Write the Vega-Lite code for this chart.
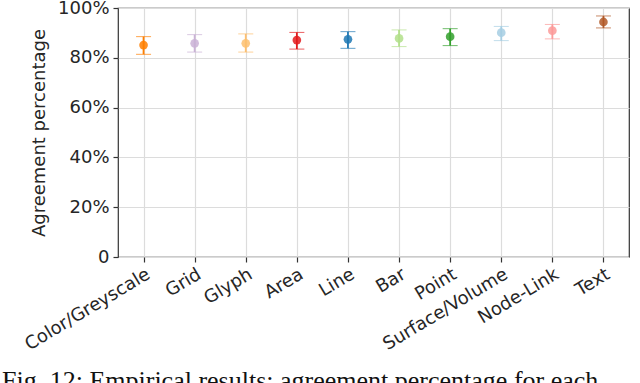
{
  "$schema": "https://vega.github.io/schema/vega-lite/v6.json",
  "width": 511,
  "height": 249,
  "autosize": {"type": "none"},
  "padding": {"left": 118, "top": 8, "right": 11, "bottom": 126},
  "background": "white",
  "config": {
    "font": "DejaVu Sans",
    "view": {"stroke": "#333333", "strokeWidth": 1.2},
    "axis": {"labelFont": "DejaVu Sans", "titleFont": "DejaVu Sans", "labelColor": "#262626", "titleColor": "#262626", "gridColor": "#dcdcdc", "gridWidth": 1.2, "domain": false, "tickColor": "#333333", "tickSize": 5, "tickWidth": 1.2}
  },
  "title": {
    "text": "Fig. 12: Empirical results: agreement percentage for each",
    "orient": "bottom",
    "anchor": "start",
    "font": "Liberation Serif",
    "fontSize": 26,
    "fontWeight": "normal",
    "color": "#111111",
    "dx": -116,
    "offset": 14,
    "frame": "group"
  },
  "data": {
    "values": [
      {"cat": "Color/Greyscale", "mean": 85.1, "lo": 81.4, "hi": 88.5},
      {"cat": "Grid", "mean": 85.8, "lo": 82.3, "hi": 89.3},
      {"cat": "Glyph", "mean": 85.8, "lo": 82.3, "hi": 89.6},
      {"cat": "Area", "mean": 87.1, "lo": 83.5, "hi": 90.2},
      {"cat": "Line", "mean": 87.4, "lo": 83.8, "hi": 90.5},
      {"cat": "Bar", "mean": 87.8, "lo": 84.5, "hi": 91.2},
      {"cat": "Point", "mean": 88.5, "lo": 84.9, "hi": 91.7},
      {"cat": "Surface/Volume", "mean": 90.1, "lo": 86.9, "hi": 92.6},
      {"cat": "Node-Link", "mean": 90.9, "lo": 87.6, "hi": 93.4},
      {"cat": "Text", "mean": 94.4, "lo": 92.0, "hi": 96.8}
    ]
  },
  "encoding": {
    "x": {
      "field": "cat", "type": "nominal", "sort": null,
      "scale": {"type": "point", "padding": 0.5},
      "axis": {"title": null, "labelAngle": -31, "labelAlign": "right", "labelBaseline": "top", "labelFontSize": 18, "labelPadding": 3, "grid": true}
    },
    "color": {
      "field": "cat", "type": "nominal", "sort": null, "legend": null,
      "scale": {"range": ["#ff7f00", "#cab2d6", "#fdbf6f", "#e31a1c", "#1f78b4", "#b2df8a", "#33a02c", "#a6cee3", "#fb9a99", "#b15928"]}
    }
  },
  "layer": [
    {
      "mark": {"type": "errorbar", "ticks": {"size": 15, "strokeWidth": 2}, "rule": {"strokeWidth": 1.8}},
      "encoding": {
        "y": {"field": "lo", "type": "quantitative",
          "scale": {"domain": [0, 100], "nice": false},
          "axis": {"title": "Agreement percentage", "titleFontSize": 18, "titleFontWeight": "normal", "titlePadding": 9, "labelFontSize": 18, "values": [0, 20, 40, 60, 80, 100], "labelExpr": "datum.value == 0 ? '0' : datum.value + '%'", "grid": true, "labelPadding": 4}},
        "y2": {"field": "hi"}
      }
    },
    {
      "mark": {"type": "point", "filled": true, "shape": "circle", "size": 75, "opacity": 0.85, "strokeWidth": 1},
      "encoding": {
        "y": {"field": "mean", "type": "quantitative"}
      }
    }
  ]
}
